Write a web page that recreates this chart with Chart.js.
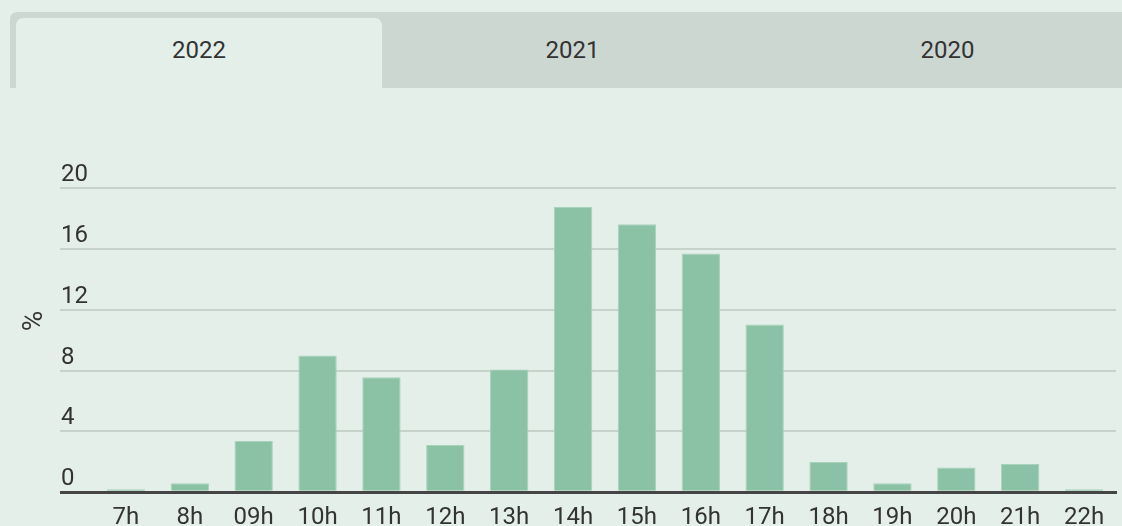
<!DOCTYPE html>
<html><head><meta charset="utf-8">
<script src="https://cdn.jsdelivr.net/npm/chart.js@4/dist/chart.umd.min.js"></script>
<style>
html,body{margin:0;padding:0;width:1122px;height:526px;overflow:hidden;background:#e3efe8;font-family:Roboto,"Noto Sans",sans-serif;}
#tabs{position:absolute;left:10px;top:12px;width:1125px;height:76px;background:#cdd7d1;border-radius:7px 0 0 0;}
.tab{position:absolute;top:0;height:76px;width:375px;line-height:76px;text-align:center;font-size:24px;color:#333;}
.tab.active{background:#e3efe8;top:6px;height:70px;line-height:64px;border-radius:7px 7px 0 0;}
#wrap{position:absolute;left:0;top:0;width:1122px;height:550px;}
</style>
</head><body>
<div id="tabs"></div>
<div id="wrap"><canvas id="c" width="1122" height="550"></canvas></div>
<script>
const tabYears = ['2022','2021','2020'];
const hours = ['7h','8h','09h','10h','11h','12h','13h','14h','15h','16h','17h','18h','19h','20h','21h','22h'];
const shares = [0.2,0.59,3.36,8.98,7.56,3.1,8.07,18.75,17.62,15.69,11.02,1.99,0.59,1.62,1.86,0.2];
const yTickStep = 4;
const yMax = 22.5;
const yTitle = '%';

const tabs = document.getElementById('tabs');
tabYears.forEach((y, i) => {
  const d = document.createElement('div');
  d.className = 'tab' + (i === 0 ? ' active' : '');
  d.textContent = y;
  if (i === 0) { d.style.left = '6px'; d.style.width = '366px'; }
  else { d.style.left = (i * 375) + 'px'; }
  tabs.appendChild(d);
});

const textColor = '#333333';
new Chart(document.getElementById('c'), {
  type: 'bar',
  data: {
    labels: hours,
    datasets: [{
      data: shares,
      backgroundColor: '#8bc2a6',
      borderColor: '#a7d2bc',
      borderWidth: 1,
      barPercentage: 0.6,
      categoryPercentage: 1
    }]
  },
  options: {
    responsive: false,
    animation: false,
    devicePixelRatio: 1,
    layout: { padding: { top: 150, left: 0, right: 6, bottom: 7 } },
    plugins: { legend: { display: false }, tooltip: { enabled: false } },
    scales: {
      x: {
        z: 1,
        grid: { display: false, drawTicks: false },
        border: { display: true, color: '#454545', width: 3 },
        ticks: { font: { family: 'Roboto', size: 24 }, color: textColor, padding: 11, autoSkip: false, maxRotation: 0 }
      },
      y: {
        min: 0,
        max: yMax,
        afterFit: s => { s.width = 94; },
        border: { display: false },
        grid: {
          drawTicks: true,
          tickLength: 34,
          color: c => (c.tick && c.tick.value === 0) ? '#454545' : '#c6d3cb',
          lineWidth: c => (c.tick && c.tick.value === 0) ? 3 : 2
        },
        ticks: {
          stepSize: yTickStep,
          includeBounds: false,
          mirror: true,
          crossAlign: 'near',
          padding: -33,
          labelOffset: -13,
          font: { family: 'Roboto', size: 24 },
          color: textColor
        },
        title: {
          display: true,
          text: yTitle,
          color: textColor,
          font: { family: 'Roboto', size: 28 },
          padding: { top: 18.2, bottom: 0 }
        }
      }
    }
  }
});
</script>
</body></html>
